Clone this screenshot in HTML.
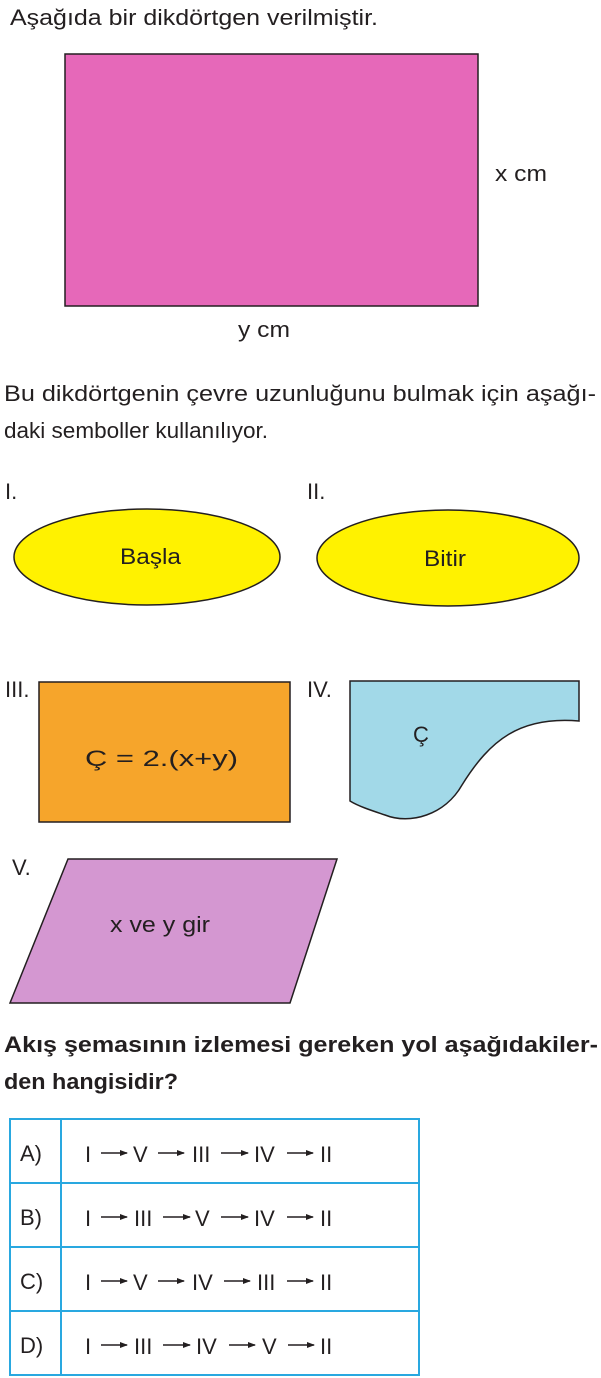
<!DOCTYPE html>
<html><head><meta charset="utf-8"><style>
body{margin:0;background:#fff;}
svg{display:block;font-family:"Liberation Sans",sans-serif;}
</style></head><body>
<svg width="601" height="1378" viewBox="0 0 601 1378" xmlns="http://www.w3.org/2000/svg">
<defs><marker id="ah" markerWidth="8" markerHeight="6" refX="7" refY="3" orient="auto" markerUnits="userSpaceOnUse"><path d="M0 0 L8 3 L0 6 Z" fill="#231f20"/></marker></defs>
<g font-size="22" fill="#231f20">
<text x="10" y="25" textLength="368" lengthAdjust="spacingAndGlyphs">Aşağıda bir dikdörtgen verilmiştir.</text>
<rect x="65" y="54" width="413" height="252" fill="#e668b9" stroke="#231f20" stroke-width="1.5"/>
<text x="495" y="181" textLength="52" lengthAdjust="spacingAndGlyphs">x cm</text>
<text x="238" y="337" textLength="52" lengthAdjust="spacingAndGlyphs">y cm</text>
<text x="4" y="401" textLength="592" lengthAdjust="spacingAndGlyphs">Bu dikdörtgenin çevre uzunluğunu bulmak için aşağı-</text>
<text x="4" y="438" textLength="264" lengthAdjust="spacingAndGlyphs">daki semboller kullanılıyor.</text>
<text x="5" y="499">I.</text>
<text x="307" y="499">II.</text>
<ellipse cx="147" cy="557" rx="133" ry="48" fill="#fff200" stroke="#231f20" stroke-width="1.5"/>
<text x="120" y="564" textLength="61" lengthAdjust="spacingAndGlyphs">Başla</text>
<ellipse cx="448" cy="558" rx="131" ry="48" fill="#fff200" stroke="#231f20" stroke-width="1.5"/>
<text x="424" y="566" textLength="42" lengthAdjust="spacingAndGlyphs">Bitir</text>
<text x="5" y="697">III.</text>
<rect x="39" y="682" width="251" height="140" fill="#f6a52b" stroke="#231f20" stroke-width="1.5"/>
<text x="85" y="766" textLength="153" lengthAdjust="spacingAndGlyphs">Ç = 2.(x+y)</text>
<text x="307" y="697">IV.</text>
<path d="M350 681 L579 681 L579 721 C520 716 490 740 462 785 C445 815 410 825 385 815 C370 810 358 806 350 801 Z" fill="#a2d9e8" stroke="#231f20" stroke-width="1.5"/>
<text x="421" y="742" text-anchor="middle">Ç</text>
<text x="12" y="875">V.</text>
<polygon points="68,859 337,859 290,1003 10,1003" fill="#d497d1" stroke="#231f20" stroke-width="1.5"/>
<text x="110" y="932" textLength="100" lengthAdjust="spacingAndGlyphs">x ve y gir</text>
<text x="4" y="1052" font-weight="bold" textLength="594" lengthAdjust="spacingAndGlyphs">Akış şemasının izlemesi gereken yol aşağıdakiler-</text>
<text x="4" y="1089" font-weight="bold" textLength="174" lengthAdjust="spacingAndGlyphs">den hangisidir?</text>
</g>
<g stroke="#29a8e0" stroke-width="2" fill="none">
<rect x="10" y="1119" width="409" height="256"/>
<line x1="61" y1="1119" x2="61" y2="1375"/>
<line x1="10" y1="1183" x2="419" y2="1183"/>
<line x1="10" y1="1247" x2="419" y2="1247"/>
<line x1="10" y1="1311" x2="419" y2="1311"/>
</g>
<g font-size="22" fill="#231f20">
<text x="20" y="1161">A)</text>
<text x="20" y="1225">B)</text>
<text x="20" y="1289">C)</text>
<text x="20" y="1353">D)</text>
<!-- A -->
<text x="85" y="1162">I</text><text x="133" y="1162">V</text><text x="192" y="1162">III</text><text x="254" y="1162">IV</text><text x="320" y="1162">II</text>
<!-- B -->
<text x="85" y="1226">I</text><text x="134" y="1226">III</text><text x="195" y="1226">V</text><text x="254" y="1226">IV</text><text x="320" y="1226">II</text>
<!-- C -->
<text x="85" y="1290">I</text><text x="133" y="1290">V</text><text x="192" y="1290">IV</text><text x="257" y="1290">III</text><text x="320" y="1290">II</text>
<!-- D -->
<text x="85" y="1354">I</text><text x="134" y="1354">III</text><text x="196" y="1354">IV</text><text x="262" y="1354">V</text><text x="320" y="1354">II</text>
</g>
<g stroke="#231f20" stroke-width="1.6" marker-end="url(#ah)">
<line x1="101" y1="1153" x2="127" y2="1153"/><line x1="158" y1="1153" x2="184" y2="1153"/><line x1="221" y1="1153" x2="248" y2="1153"/><line x1="287" y1="1153" x2="313" y2="1153"/>
<line x1="101" y1="1217" x2="127" y2="1217"/><line x1="163" y1="1217" x2="190" y2="1217"/><line x1="221" y1="1217" x2="248" y2="1217"/><line x1="287" y1="1217" x2="313" y2="1217"/>
<line x1="101" y1="1281" x2="127" y2="1281"/><line x1="158" y1="1281" x2="184" y2="1281"/><line x1="224" y1="1281" x2="250" y2="1281"/><line x1="287" y1="1281" x2="313" y2="1281"/>
<line x1="101" y1="1345" x2="127" y2="1345"/><line x1="163" y1="1345" x2="190" y2="1345"/><line x1="229" y1="1345" x2="255" y2="1345"/><line x1="288" y1="1345" x2="314" y2="1345"/>
</g>
</svg>
</body></html>
